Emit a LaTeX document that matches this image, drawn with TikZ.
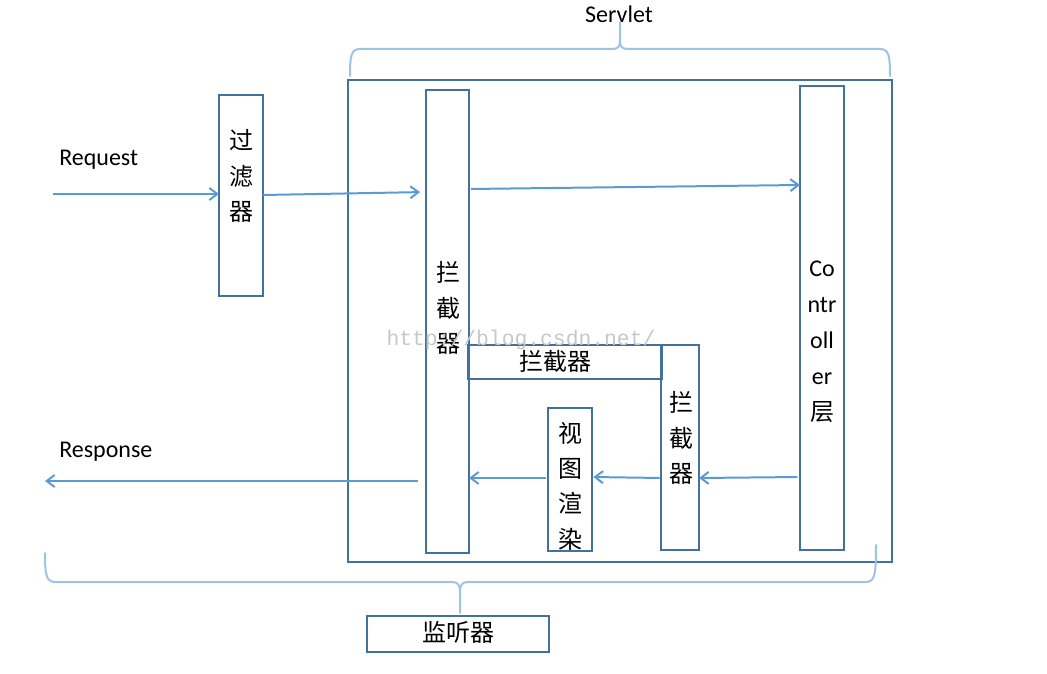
\documentclass[tikz,border=0pt]{standalone}
\usepackage{fontspec}
\setmainfont{Carlito}
\newfontfamily\cjk{Noto Sans CJK SC}
\newfontfamily\wmfont{Liberation Mono}
\usetikzlibrary{arrows.meta}
\definecolor{boxc}{HTML}{41719C}
\definecolor{arrc}{HTML}{5B9BD5}
\definecolor{brc}{HTML}{9DC3E6}
\begin{document}
\begin{tikzpicture}[x=0.75pt,y=-0.75pt,
  box/.style={draw=boxc,line width=2pt,inner sep=0pt,outer sep=0pt},
  vtxt/.style={align=center,inner sep=0pt,font=\fontsize{18}{26.5}\selectfont\cjk},
  etxt/.style={inner sep=0pt,font=\fontsize{18}{22}\selectfont},
  arr/.style={draw=arrc,line width=1.5pt,-{Straight Barb[length=6pt,width=9pt,line width=1.5pt]}},
  brace/.style={draw=brc,line width=1.5pt,line cap=round}]
\useasboundingbox (0,0) rectangle (1047,674);
% boxes
\node[box,minimum width=408pt,minimum height=361.5pt] (servlet) at (620,321) {};
\node[box,minimum width=33pt,minimum height=150.75pt] (filter) at (241,195.5) {};
\node[box,minimum width=32.25pt,minimum height=347.25pt] (int1) at (447.5,321.5) {};
\node[box,minimum width=33pt,minimum height=348pt] (ctrl) at (822,318) {};
\node[box,minimum width=145.5pt,minimum height=25.5pt] (intH) at (565,362) {};
\node[box,minimum width=28.5pt,minimum height=153.75pt] (intR) at (680,447.5) {};
\node[box,minimum width=33pt,minimum height=107.25pt] (view) at (570,479.5) {};
\node[box,minimum width=136.5pt,minimum height=27pt] (listener) at (458,634) {};
% texts
\node[vtxt] (filterT) at (241,176) {过\\滤\\器};
\node[vtxt] (int1T) at (448,308) {拦\\截\\器};
\node[vtxt,font=\fontsize{18}{27}\selectfont] (ctrlT) at (822,342) {Co\\ntr\\oll\\er\\{\cjk 层}};
\node[vtxt] (intHT) at (555,361) {拦截器};
\node[vtxt] (intRT) at (681,438) {拦\\截\\器};
\node[vtxt] (viewT) at (570,486) {视\\图\\渲\\染};
\node[vtxt] (listenerT) at (458,632) {监听器};
\node[etxt] (servletL) at (619,14) {Servlet};
\node[etxt,anchor=west] (reqL) at (59,160) {Request};
\node[etxt,anchor=west] (respL) at (59,452) {Response};
% arrows
\coordinate (reqS) at (53,194);
\coordinate (respE) at (45,481);
\draw[arr] (reqS) -- (filter.west |- reqS);
\draw[arr,shorten >=4.5pt] (filter.east |- 0,195) -- (int1.west |- 0,192);
\draw[arr,shorten <=1.5pt] (int1.east |- 0,189) -- (ctrl.west |- 0,185);
\draw[arr,shorten <=2pt] (ctrl.west |- 0,477) -- (intR.east |- 0,478);
\draw[arr,shorten <=1pt,shorten >=1pt] (intR.west |- 0,478) -- (view.east |- 0,477);
\draw[arr,shorten <=1.5pt] (view.west |- 0,478) -- (int1.east |- 0,478);
\draw[arr,shorten <=6pt] (int1.west |- 0,481) -- (respE);
% braces
\coordinate (topTip) at (620,22);
\coordinate (botTip) at (460,613);
\draw[brace] (350,76) .. controls (350,56) and (351,49) .. (360,49) -- (612,49) .. controls (618,49) and (620,47) .. (620,40) -- (topTip);
\draw[brace] (890,76) .. controls (890,56) and (889,49) .. (880,49) -- (628,49) .. controls (622,49) and (620,47) .. (620,40);
\draw[brace] (45,553) .. controls (45,574) and (46,582) .. (55,582) -- (452,582) .. controls (458,582) and (460,585) .. (460,592) -- (botTip);
\draw[brace] (876,545) .. controls (876,574) and (875,582) .. (866,582) -- (468,582) .. controls (462,582) and (460,585) .. (460,592);
% watermark
\node[inner sep=0pt,text=black!22,font=\fontsize{16}{18}\selectfont\wmfont] (wm) at (521,340) {http://blog.csdn.net/};
\end{tikzpicture}
\end{document}
